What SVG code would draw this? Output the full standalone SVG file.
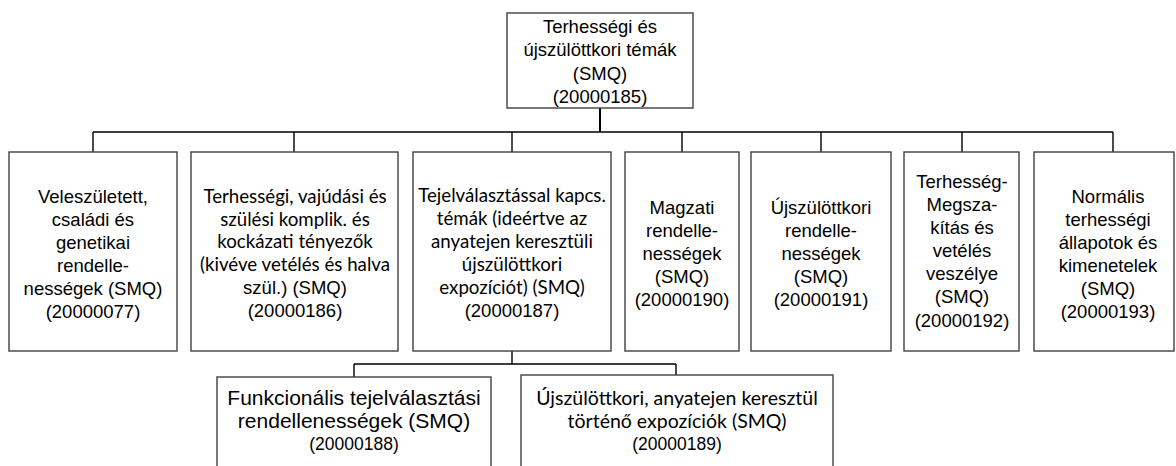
<svg xmlns="http://www.w3.org/2000/svg" width="1176" height="466" viewBox="0 0 1176 466">
<style>
.box{fill:#fff;stroke:#404040;stroke-width:1.4}
.ln{fill:none;stroke:#000;stroke-width:1.4}
.a{font-family:"Liberation Sans",Arial,sans-serif;font-size:18.5px;fill:#000;text-anchor:middle}
.c{font-family:Lato,"Noto Sans",sans-serif;font-size:18.7px;fill:#000;text-anchor:middle}
.b{font-family:"Liberation Sans",Arial,sans-serif;font-size:21px;fill:#000;text-anchor:middle}
.cb{font-family:Lato,"Noto Sans",sans-serif;font-size:19.5px;fill:#000;text-anchor:middle}
.n{font-family:"Liberation Sans",Arial,sans-serif;font-size:17.5px;fill:#000;text-anchor:middle}
</style>
<rect width="1176" height="466" fill="#fff"/>
<g id="connectors">
<path class="ln" d="M600 108V132" style="stroke-width:2"/>
<path class="ln" d="M93 132H1113M93 132V152M294 132V152M512 132V152M682 132V152M821 132V152M962 132V152M1113 132V152"/>
<path class="ln" d="M512 351V364M354 364H676M354 364V377M676 364V375"/>
</g>
<g id="n0">
<rect class="box" x="507" y="13" width="186" height="95"/>
<text class="a" x="600" y="33">Terhességi és</text>
<text class="a" x="600" y="56">újszülöttkori témák</text>
<text class="a" x="600" y="80">(SMQ)</text>
<text class="a" x="600" y="103">(20000185)</text>
</g>
<g id="n1">
<rect class="box" x="9" y="152" width="168" height="199"/>
<text class="a" x="93" y="203">Veleszületett,</text>
<text class="a" x="93" y="226">családi és</text>
<text class="a" x="93" y="249">genetikai</text>
<text class="a" x="93" y="272">rendelle-</text>
<text class="a" x="93" y="295">nességek (SMQ)</text>
<text class="a" x="93" y="318">(20000077)</text>
</g>
<g id="n2">
<rect class="box" x="191" y="152" width="207" height="199"/>
<text class="c" x="295" y="203">Terhességi, vajúdási és</text>
<text class="c" x="295" y="226">szülési komplik. és</text>
<text class="c" x="295" y="248">kockázati tényezők</text>
<text class="c" x="295" y="271">(kivéve vetélés és halva</text>
<text class="a" x="295" y="294">szül.) (SMQ)</text>
<text class="a" x="295" y="317">(20000186)</text>
</g>
<g id="n3">
<rect class="box" x="413" y="152" width="198" height="199"/>
<text class="c" x="512" y="202">Tejelválasztással kapcs.</text>
<text class="c" x="512" y="225">témák (ideértve az</text>
<text class="c" x="512" y="248">anyatejen keresztüli</text>
<text class="c" x="512" y="271">újszülöttkori</text>
<text class="c" x="512" y="294">expozíciót) (SMQ)</text>
<text class="a" x="512" y="317">(20000187)</text>
</g>
<g id="n4">
<rect class="box" x="625" y="152" width="114" height="199"/>
<text class="a" x="682" y="214">Magzati</text>
<text class="a" x="682" y="237">rendelle-</text>
<text class="a" x="682" y="260">nességek</text>
<text class="a" x="682" y="283">(SMQ)</text>
<text class="a" x="682" y="306">(20000190)</text>
</g>
<g id="n5">
<rect class="box" x="751" y="152" width="140" height="199"/>
<text class="a" x="821" y="214">Újszülöttkori</text>
<text class="a" x="821" y="237">rendelle-</text>
<text class="a" x="821" y="260">nességek</text>
<text class="a" x="821" y="283">(SMQ)</text>
<text class="a" x="821" y="306">(20000191)</text>
</g>
<g id="n6">
<rect class="box" x="904" y="152" width="115" height="199"/>
<text class="a" x="962" y="188">Terhesség-</text>
<text class="a" x="962" y="211">Megsza-</text>
<text class="a" x="962" y="234">kítás és</text>
<text class="a" x="962" y="257">vetélés</text>
<text class="a" x="962" y="280">veszélye</text>
<text class="a" x="962" y="303">(SMQ)</text>
<text class="a" x="962" y="327">(20000192)</text>
</g>
<g id="n7">
<rect class="box" x="1034" y="152" width="140" height="199"/>
<text class="a" x="1108" y="203">Normális</text>
<text class="a" x="1108" y="226">terhességi</text>
<text class="a" x="1108" y="249">állapotok és</text>
<text class="a" x="1108" y="272">kimenetelek</text>
<text class="a" x="1108" y="295">(SMQ)</text>
<text class="a" x="1108" y="318">(20000193)</text>
</g>
<g id="n8">
<rect class="box" x="217" y="377" width="274" height="100"/>
<text class="b" x="354" y="405">Funkcionális tejelválasztási</text>
<text class="b" x="354" y="428">rendellenességek (SMQ)</text>
<text class="n" x="354" y="450">(20000188)</text>
</g>
<g id="n9">
<rect class="box" x="521" y="375" width="312" height="102"/>
<text class="cb" x="677" y="405">Újszülöttkori, anyatejen keresztül</text>
<text class="cb" x="677" y="428">történő expozíciók (SMQ)</text>
<text class="n" x="677" y="450">(20000189)</text>
</g>
</svg>
